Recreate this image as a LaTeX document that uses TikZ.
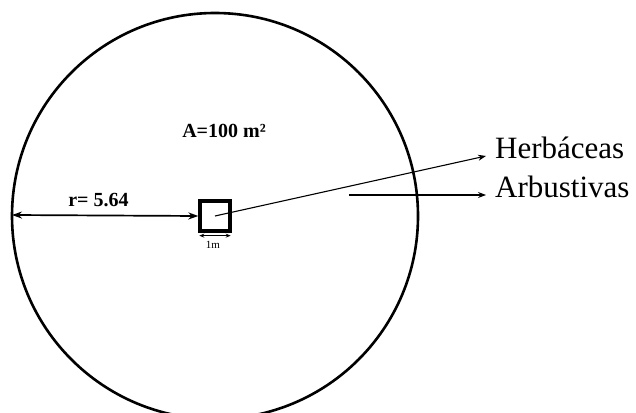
\documentclass[tikz,border=0pt]{standalone}
\usepackage{fontspec}
\setmainfont{Liberation Serif}
\usetikzlibrary{arrows.meta,positioning,calc}

\begin{document}
\begin{tikzpicture}[x=1pt, y=1pt,
    tip/.style={-{Stealth[length=8pt,width=6pt]}, line width=1.1pt},
    lbl/.style={font=\fontsize{31}{36}\selectfont, anchor=mid west, inner xsep=9pt, inner ysep=0pt}]
  \useasboundingbox (0,0) rectangle (636,412);

  % Plot boundary
  \draw[line width=2.6pt] (215,196) circle (203pt);
  \coordinate (c) at (215,196);
  \coordinate (rim) at (12,197);

  % Sub-plot of 1 m
  \node[draw, line width=3.3pt, minimum size=30pt, inner sep=0pt] (sq) at (c) {};
  \draw[line width=1.2pt, {Stealth[length=5pt,width=4pt]}-{Stealth[length=5pt,width=4pt]}]
    ($(sq.south west)+(1,-3)$) -- ($(sq.south east)+(-1,-3)$);
  \node[font=\fontsize{11}{13}\selectfont] (side) at (213,167.5) {1m};

  % Radius
  \draw[line width=1.7pt, {Stealth[length=10pt,width=7pt]}-{Stealth[length=10pt,width=7pt]}] (rim) -- (sq.west);
  \node[font=\bfseries\fontsize{20}{24}\selectfont] (rad) at (98.5,212) {r= 5.64};

  % Area
  \node[font=\bfseries\fontsize{20}{24}\selectfont] (area) at (224,281) {A=100 m²};

  % Strata
  \node[lbl] (herb) at (486,256) {Herbáceas};
  \node[lbl] (arb) at (486,217) {Arbustivas};
  \coordinate (arbstart) at (349,217);
  \draw[tip] (c) -- (herb.mid west);
  \draw[tip] (arbstart) -- (arb.mid west);
\end{tikzpicture}
\end{document}
